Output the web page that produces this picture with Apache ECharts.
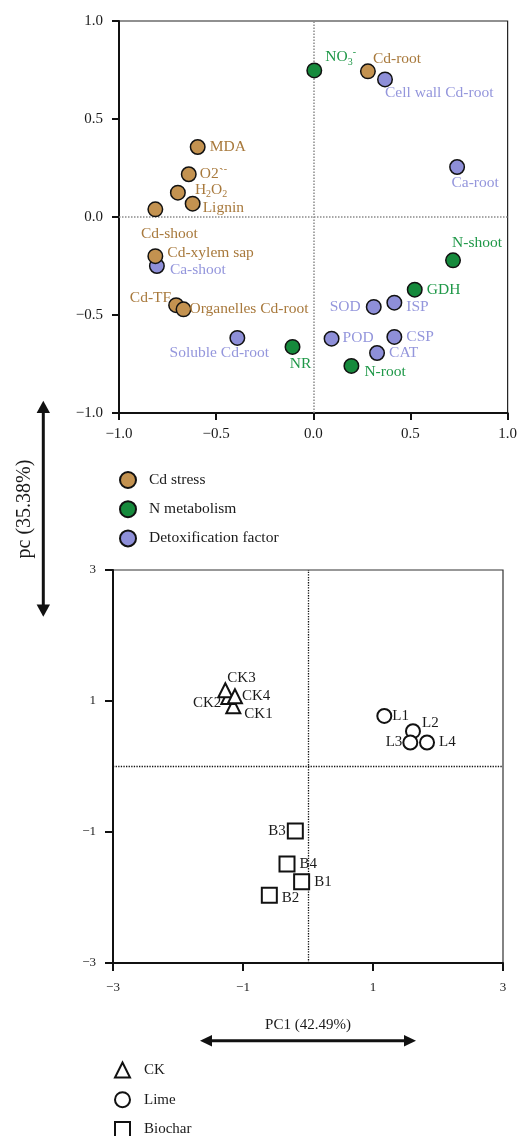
<!DOCTYPE html>
<html>
<head>
<meta charset="utf-8">
<script src="https://cdn.jsdelivr.net/npm/echarts@6/dist/echarts.min.js"></script>
<style>
  html, body { margin: 0; padding: 0; background: #ffffff; }
  #chart { width: 520px; height: 1136px; }
</style>
</head>
<body>
<div id="chart"></div>
<script>
// ---- Variable loadings (upper panel) ----
const cdStressNames = ['MDA', 'O2`-', 'H2O2', 'Lignin', 'Cd-shoot', 'Cd-xylem sap', 'Cd-TF', 'Organelles Cd-root', 'Cd-root'];
const cdStressX     = [-0.595, -0.641, -0.697, -0.621, -0.813, -0.813, -0.706, -0.668, 0.281];
const cdStressY     = [0.357, 0.218, 0.124, 0.068, 0.039, -0.200, -0.450, -0.471, 0.743];

const nMetabNames = ['NO3-', 'N-shoot', 'GDH', 'NR', 'N-root'];
const nMetabX     = [0.005, 0.719, 0.522, -0.107, 0.196];
const nMetabY     = [0.748, -0.221, -0.371, -0.663, -0.760];

const detoxNames = ['Cell wall Cd-root', 'Ca-root', 'Ca-shoot', 'Soluble Cd-root', 'SOD', 'ISP', 'POD', 'CSP', 'CAT'];
const detoxX     = [0.369, 0.740, -0.805, -0.391, 0.311, 0.417, 0.094, 0.417, 0.328];
const detoxY     = [0.702, 0.255, -0.250, -0.617, -0.459, -0.437, -0.621, -0.612, -0.694];

// ---- Sample scores (lower panel) ----
const ckNames = ['CK1', 'CK2', 'CK3', 'CK4'];
const ckX     = [-1.149, -1.226, -1.272, -1.124];
const ckY     = [0.920, 1.060, 1.165, 1.073];

const limeNames = ['L1', 'L2', 'L3', 'L4'];
const limeX     = [1.174, 1.615, 1.574, 1.831];
const limeY     = [0.772, 0.539, 0.366, 0.366];

const biocharNames = ['B1', 'B2', 'B3', 'B4'];
const biocharX     = [-0.098, -0.595, -0.195, -0.323];
const biocharY     = [-1.760, -1.965, -0.983, -1.490];

// ---- Axis ticks and titles ----
const loadingTicks = [-1, -0.5, 0, 0.5, 1];
const scoreTicks = [-3, -1, 1, 3];
const groupLabels = ['Cd stress', 'N metabolism', 'Detoxification factor'];
const treatLabels = ['CK', 'Lime', 'Biochar'];
const pc1Title = 'PC1 (42.49%)';
const pc2Title = 'pc (35.38%)';

// ---- Styling ----
const FONT = '"Liberation Serif", "DejaVu Serif", serif';
const INK = '#1a1a1a';
const BROWN = '#c39250', BROWN_TXT = '#a8793c';
const GREEN = '#168a3c', GREEN_TXT = '#1f9848';
const PURPLE = '#8e8fd8', PURPLE_TXT = '#9496dc';
const LOAD_FONT = 15.5;

// label placement per point: [position, distance, dx, dy]
const labelPlace = {
  'MDA': ['right', 4, 0, 0],
  'O2`-': ['right', 3, 0, 0],
  'H2O2': ['right', 9, 0, -3],
  'Lignin': ['right', 2, 0, 4],
  'Cd-shoot': ['bottom', 5, 14, 4],
  'Cd-xylem sap': ['right', 4, 0, -3],
  'Cd-TF': ['left', -3, 0, -7],
  'Organelles Cd-root': ['right', -2, 0, 0],
  'Cd-root': ['right', -3, 0, -12],
  'NO3-': ['right', 3, 0, -13],
  'N-shoot': ['top', 5, 24, 4],
  'GDH': ['right', 4, 0, 0],
  'NR': ['bottom', 5, 8, -4],
  'N-root': ['right', 5, 0, 6],
  'Cell wall Cd-root': ['right', 5, -13, 14],
  'Ca-root': ['bottom', 5, 18, -5],
  'Ca-shoot': ['right', 5, 0, 4],
  'Soluble Cd-root': ['bottom', 5, -18, -6],
  'SOD': ['left', 5, 0, 0],
  'ISP': ['right', 4, 0, 4],
  'POD': ['right', 3, 0, -1],
  'CSP': ['right', 4, 0, 0],
  'CAT': ['right', 4, 0, 0],
  'CK1': ['right', 5, -2, 8],
  'CK2': ['left', 5, 6, 6],
  'CK3': ['right', 5, -11, -12],
  'CK4': ['right', 5, -6, 0],
  'L1': ['right', 0, 0, 0],
  'L2': ['right', 1, 0, -8],
  'L3': ['left', 0, 0, 0],
  'L4': ['right', 4, 0, 0],
  'B1': ['right', 4, 0, 0],
  'B2': ['right', 4, 0, 3],
  'B3': ['left', 1, 0, 0],
  'B4': ['right', 4, 0, 0]
};

// chemical formulae rendered with sub/superscripts
const richNames = {
  'O2`-': '{b|O2`}{sup|-}',
  'H2O2': '{b|H}{sub|2}{b|O}{sub|2}',
  'NO3-': '{b|NO}{sub|3}{sup|-}'
};

function richStyle(color) {
  return {
    b: { fontSize: LOAD_FONT, fontFamily: FONT, color: color, lineHeight: 20 },
    sub: { fontSize: 10, fontFamily: FONT, color: color, verticalAlign: 'bottom' },
    sup: { fontSize: 10, fontFamily: FONT, color: color, verticalAlign: 'top' }
  };
}

function points(names, xs, ys) {
  return names.map(function (n, i) {
    const p = labelPlace[n];
    return {
      name: n,
      value: [xs[i], ys[i]],
      label: { position: p[0], distance: p[1], offset: [p[2], p[3]] }
    };
  });
}

function minusFmt(digits) {
  return function (v) {
    const s = digits ? v.toFixed(digits) : String(v);
    return s.replace('-', '\u2212');
  };
}

function loadingSeries(name, names, xs, ys, fill, txt, extra) {
  return Object.assign({
    name: name,
    type: 'scatter',
    xAxisIndex: 0,
    yAxisIndex: 0,
    symbol: 'circle',
    symbolSize: 14.5,
    itemStyle: { color: fill, borderColor: '#111', borderWidth: 1.5, opacity: 1 },
    label: {
      show: true,
      fontSize: LOAD_FONT,
      fontFamily: FONT,
      color: txt,
      formatter: function (p) { return richNames[p.name] || p.name; },
      rich: richStyle(txt)
    },
    emphasis: { disabled: true },
    data: points(names, xs, ys)
  }, extra || {});
}

function scoreSeries(name, symbol, size, names, xs, ys, extra) {
  return Object.assign({
    name: name,
    type: 'scatter',
    xAxisIndex: 1,
    yAxisIndex: 1,
    symbol: symbol,
    symbolSize: size,
    itemStyle: { color: '#ffffff', borderColor: '#111', borderWidth: 2, opacity: 1 },
    label: {
      show: true,
      fontSize: 15,
      fontFamily: FONT,
      color: INK,
      formatter: '{b}'
    },
    emphasis: { disabled: true },
    data: points(names, xs, ys)
  }, extra || {});
}

function zeroLines(color, width) {
  return {
    silent: true,
    symbol: 'none',
    z: 1,
    label: { show: false },
    lineStyle: { type: 'dotted', color: color, width: width },
    emphasis: { disabled: true },
    data: [{ xAxis: 0 }, { yAxis: 0 }]
  };
}

function valueAxis(gridIndex, min, max, interval, ticks, opts) {
  return {
    type: 'value',
    gridIndex: gridIndex,
    min: min,
    max: max,
    interval: interval,
    axisLine: { show: true, onZero: false, lineStyle: { color: '#111', width: 2 } },
    axisTick: { show: true, inside: false, length: opts.tickLen, lineStyle: { color: '#111', width: 2 }, customValues: ticks },
    axisLabel: {
      show: true, fontSize: opts.fontSize, fontFamily: FONT, color: INK, margin: opts.margin,
      formatter: minusFmt(opts.digits), customValues: ticks
    },
    splitLine: { show: false }
  };
}

const chart = echarts.init(document.getElementById('chart'), null, { renderer: 'canvas' });

const xTop = valueAxis(0, -1, 1, 0.5, loadingTicks, { tickLen: 7, fontSize: 15, margin: 14, digits: 1 });
const yTop = valueAxis(0, -1, 1, 0.5, loadingTicks, { tickLen: 7, fontSize: 15, margin: 16, digits: 1 });
const xBot = valueAxis(1, -3, 3, 2, scoreTicks, { tickLen: 8, fontSize: 13, margin: 18, digits: 0 });
const yBot = valueAxis(1, -3, 3, 2, scoreTicks, { tickLen: 8, fontSize: 13, margin: 17, digits: 0 });
xBot.name = pc1Title;
xBot.nameLocation = 'middle';
xBot.nameGap = 55;
xBot.nameTextStyle = { fontSize: 15, fontFamily: FONT, color: INK };

const option = {
  animation: false,
  backgroundColor: '#ffffff',
  grid: [
    { left: 119, top: 21, width: 392, height: 392, show: true, borderColor: '#222', borderWidth: 1.2, backgroundColor: 'transparent' },
    { left: 113, top: 570, width: 390, height: 393, show: true, borderColor: '#333', borderWidth: 1.2, backgroundColor: 'transparent' }
  ],
  xAxis: [xTop, xBot],
  yAxis: [yTop, yBot],
  legend: [
    {
      data: groupLabels,
      orient: 'vertical',
      left: 119,
      top: 471,
      height: 120,
      padding: 0,
      itemWidth: 16,
      itemHeight: 16,
      itemGap: 11.2,
      selectedMode: false,
      textStyle: { fontSize: 15.5, lineHeight: 16, fontFamily: FONT, color: INK, padding: [0, 0, 0, 8] }
    },
    {
      data: treatLabels,
      orient: 'vertical',
      left: 114,
      top: 1061.5,
      height: 120,
      padding: 0,
      itemWidth: 15,
      itemHeight: 15,
      itemGap: 12.7,
      selectedMode: false,
      textStyle: { fontSize: 15, lineHeight: 15, fontFamily: FONT, color: INK, padding: [0, 0, 0, 9] }
    }
  ],
  series: [
    loadingSeries(groupLabels[2], detoxNames, detoxX, detoxY, PURPLE, PURPLE_TXT, { markLine: zeroLines('#8a8a8a', 1.5) }),
    loadingSeries(groupLabels[0], cdStressNames, cdStressX, cdStressY, BROWN, BROWN_TXT),
    loadingSeries(groupLabels[1], nMetabNames, nMetabX, nMetabY, GREEN, GREEN_TXT),
    scoreSeries(treatLabels[0], 'triangle', 14, ckNames, ckX, ckY, { markLine: zeroLines('#111', 1.3) }),
    scoreSeries(treatLabels[1], 'circle', 14, limeNames, limeX, limeY),
    scoreSeries(treatLabels[2], 'rect', 15, biocharNames, biocharX, biocharY)
  ],
  graphic: [
    // vertical axis title between the two panels
    {
      type: 'text', x: 25, y: 509, rotation: Math.PI / 2,
      style: { text: pc2Title, fontSize: 20, fontFamily: FONT, fill: INK, align: 'center', verticalAlign: 'middle' }
    },
    // double-headed arrow beside the PC2 title
    { type: 'line', shape: { x1: 43.3, y1: 410, x2: 43.3, y2: 607 }, style: { stroke: '#111', lineWidth: 3 } },
    { type: 'polygon', shape: { points: [[43.3, 400.7], [36.6, 413], [50, 413]] }, style: { fill: '#111' } },
    { type: 'polygon', shape: { points: [[43.3, 616.7], [36.6, 604.5], [50, 604.5]] }, style: { fill: '#111' } },
    // double-headed arrow under the PC1 title
    { type: 'line', shape: { x1: 209, y1: 1040.7, x2: 407, y2: 1040.7 }, style: { stroke: '#111', lineWidth: 3 } },
    { type: 'polygon', shape: { points: [[200, 1040.7], [212, 1035], [212, 1046.4]] }, style: { fill: '#111' } },
    { type: 'polygon', shape: { points: [[416, 1040.7], [404, 1035], [404, 1046.4]] }, style: { fill: '#111' } }
  ]
};

chart.setOption(option);
</script>
</body>
</html>
